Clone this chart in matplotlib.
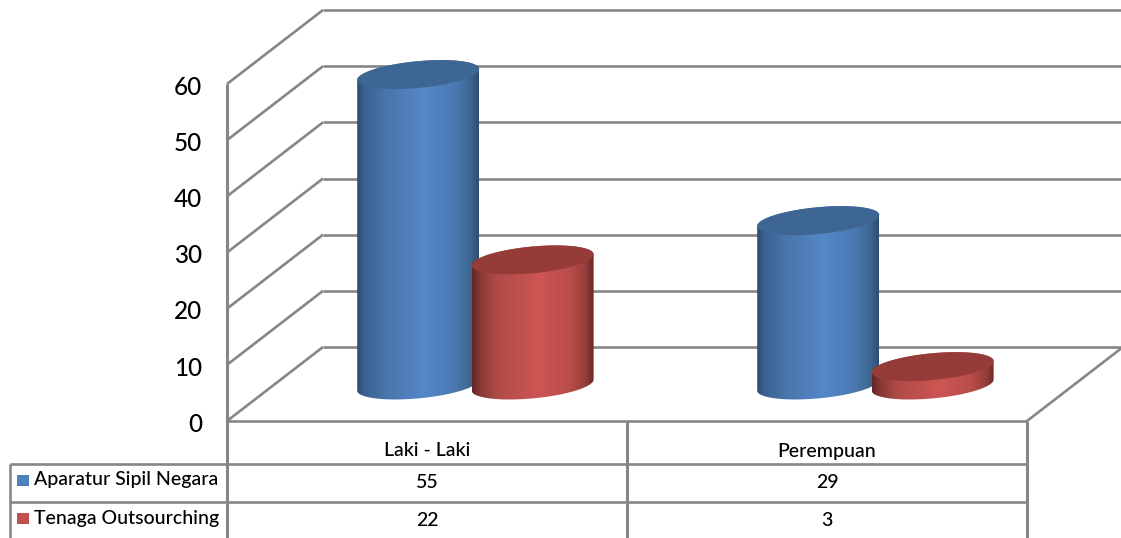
import numpy as np
import matplotlib
matplotlib.use('Agg')
import matplotlib.pyplot as plt
from matplotlib.colors import LinearSegmentedColormap
from matplotlib.patches import Polygon
from matplotlib.transforms import ScaledTranslation

categories = ['Laki - Laki', 'Perempuan']
series_names = ['Aparatur Sipil Negara', 'Tenaga Outsourching']
asn_values = [55, 29]
outsourcing_values = [22, 3]
yticks = [0, 10, 20, 30, 40, 50, 60]

W, H = 1121, 538
GRID = '#868686'
plt.rcParams['font.family'] = ['Lato', 'DejaVu Sans']
plt.rcParams['font.weight'] = 'medium'

fig = plt.figure(figsize=(W / 100, H / 100), dpi=100)

# background layer in pixels: walls, floor and data table
bg = fig.add_axes([0, 0, 1, 1])
bg.set_xlim(0, W)
bg.set_ylim(H, 0)
bg.axis('off')

# plot area: from 0 to 60 on the front edge of the floor
x0, x1, y0, y1 = 227, 1027, 421, 84
ax = fig.add_axes([x0 / W, 1 - y0 / H, (x1 - x0) / W, (y0 - y1) / H])
ax.patch.set_visible(False)
ax.set_xlim(-0.5, 1.5)
ax.set_ylim(0, 60)
for s in ax.spines.values():
    s.set_visible(False)
ax.set_xticks([])
ax.set_yticks(yticks)
ax.tick_params(axis='y', length=0, pad=18, labelsize=17.5, labelcolor='#000000')
for lab in ax.get_yticklabels():
    lab.set_transform(lab.get_transform() + ScaledTranslation(0, -1.2 / 100, fig.dpi_scale_trans))

px_per_unit = (y0 - y1) / 60
depth_x, depth_y = 96, 74


def gline(xs, ys, lw=1.9):
    bg.plot(xs, ys, color=GRID, lw=lw, solid_capstyle='butt', clip_on=True)


# wall lines, one for each tick
for v in yticks:
    y = y0 - v * px_per_unit
    gline([x0, x0 + depth_x], [y, y - depth_y])
    gline([x0 + depth_x, W], [y - depth_y, y - depth_y])
gline([x1, x1 + depth_x], [y0, y0 - depth_y])
gline([x0, x1], [y0, y0])

# data table
row1, row2 = 463.5, 502
left = 10
gline([x0 - 0.5, x0 - 0.5], [y1, H], 2.2)
gline([(x0 + x1) / 2 - 0.5] * 2, [y0, H], 2.2)
gline([x1 - 0.5, x1 - 0.5], [y0, H], 2.2)
gline([left, left], [row1, H])
gline([left, x1], [row1, row1])
gline([left, x1], [row2, row2])

TXT = 14
for i, c in enumerate(categories):
    cx = x0 + (x1 - x0) * (i + 0.5) / 2
    bg.text(cx, 451, c, ha='center', va='center', fontsize=TXT, color='#000000')
    bg.text(cx, 482, str(asn_values[i]), ha='center', va='center', fontsize=TXT, color='#000000')
    bg.text(cx, 520, str(outsourcing_values[i]), ha='center', va='center', fontsize=TXT, color='#000000')

bg.add_patch(plt.Rectangle((17, 475), 12, 11, color='#4f81bd', lw=0))
bg.add_patch(plt.Rectangle((17, 513), 12, 11, color='#c0504d', lw=0))
bg.text(34, 480, series_names[0], ha='left', va='center', fontsize=TXT, color='#000000')
bg.text(34, 518.5, series_names[1], ha='left', va='center', fontsize=TXT, color='#000000')

# cylinders in data units
half_w = 61 / 400
base = 36 / px_per_unit
b_minor = 13.4 / px_per_unit
shear = 0.09 * 400 / px_per_unit
top_extra = 0.27
offsets = [-0.022, 0.264]

blue_cmap = LinearSegmentedColormap.from_list('b', [(0, '#2b4b6f'), (0.06, '#3a6090'), (0.2, '#4773a8'), (0.55, '#5587c9'),
                                                    (0.8, '#4b7ab3'), (0.93, '#3d658f'), (1, '#2d4d72')])
red_cmap = LinearSegmentedColormap.from_list('r', [(0, '#642725'), (0.06, '#853734'), (0.2, '#b04a47'), (0.55, '#cd5653'),
                                                   (0.8, '#ba4e4b'), (0.93, '#953e3b'), (1, '#672826')])
tops = ['#3e6694', '#953c39']


def ellipse_pts(cx, cy, t):
    dx = half_w * np.cos(t)
    return cx + dx, cy + b_minor * np.sin(t) + shear * dx


def cylinder(cx, value, cmap, top_color, z):
    top_y = base + value + top_extra
    t1 = np.linspace(np.pi, 2 * np.pi, 80)
    bx, by = ellipse_pts(cx, base, t1)
    t2 = np.linspace(0, np.pi, 80)
    tx, ty = ellipse_pts(cx, top_y, t2)
    body = Polygon(np.column_stack([np.r_[bx, tx], np.r_[by, ty]]), closed=True, fc='none', ec='none',
                   transform=ax.transData, clip_on=False)
    ax.add_patch(body)
    grad = np.linspace(0, 1, 256).reshape(1, -1)
    im = ax.imshow(grad, cmap=cmap, aspect='auto', zorder=z, interpolation='bilinear',
                   extent=[cx - half_w, cx + half_w, base - 10, top_y + 10])
    im.set_clip_box(fig.bbox)
    im.set_clip_path(body)
    t3 = np.linspace(0, 2 * np.pi, 160)
    ex, ey = ellipse_pts(cx, top_y, t3)
    ax.add_patch(Polygon(np.column_stack([ex, ey]), closed=True, fc=top_color, ec='none', zorder=z + 0.5,
                         clip_on=False))


z = 3
for i in range(len(categories)):
    cylinder(i + offsets[0], asn_values[i], blue_cmap, tops[0], z)
    cylinder(i + offsets[1], outsourcing_values[i], red_cmap, tops[1], z + 1)
    z += 2

ax.set_xlim(-0.5, 1.5)
ax.set_ylim(0, 60)

fig.savefig('out.png', dpi=100, facecolor='white')
